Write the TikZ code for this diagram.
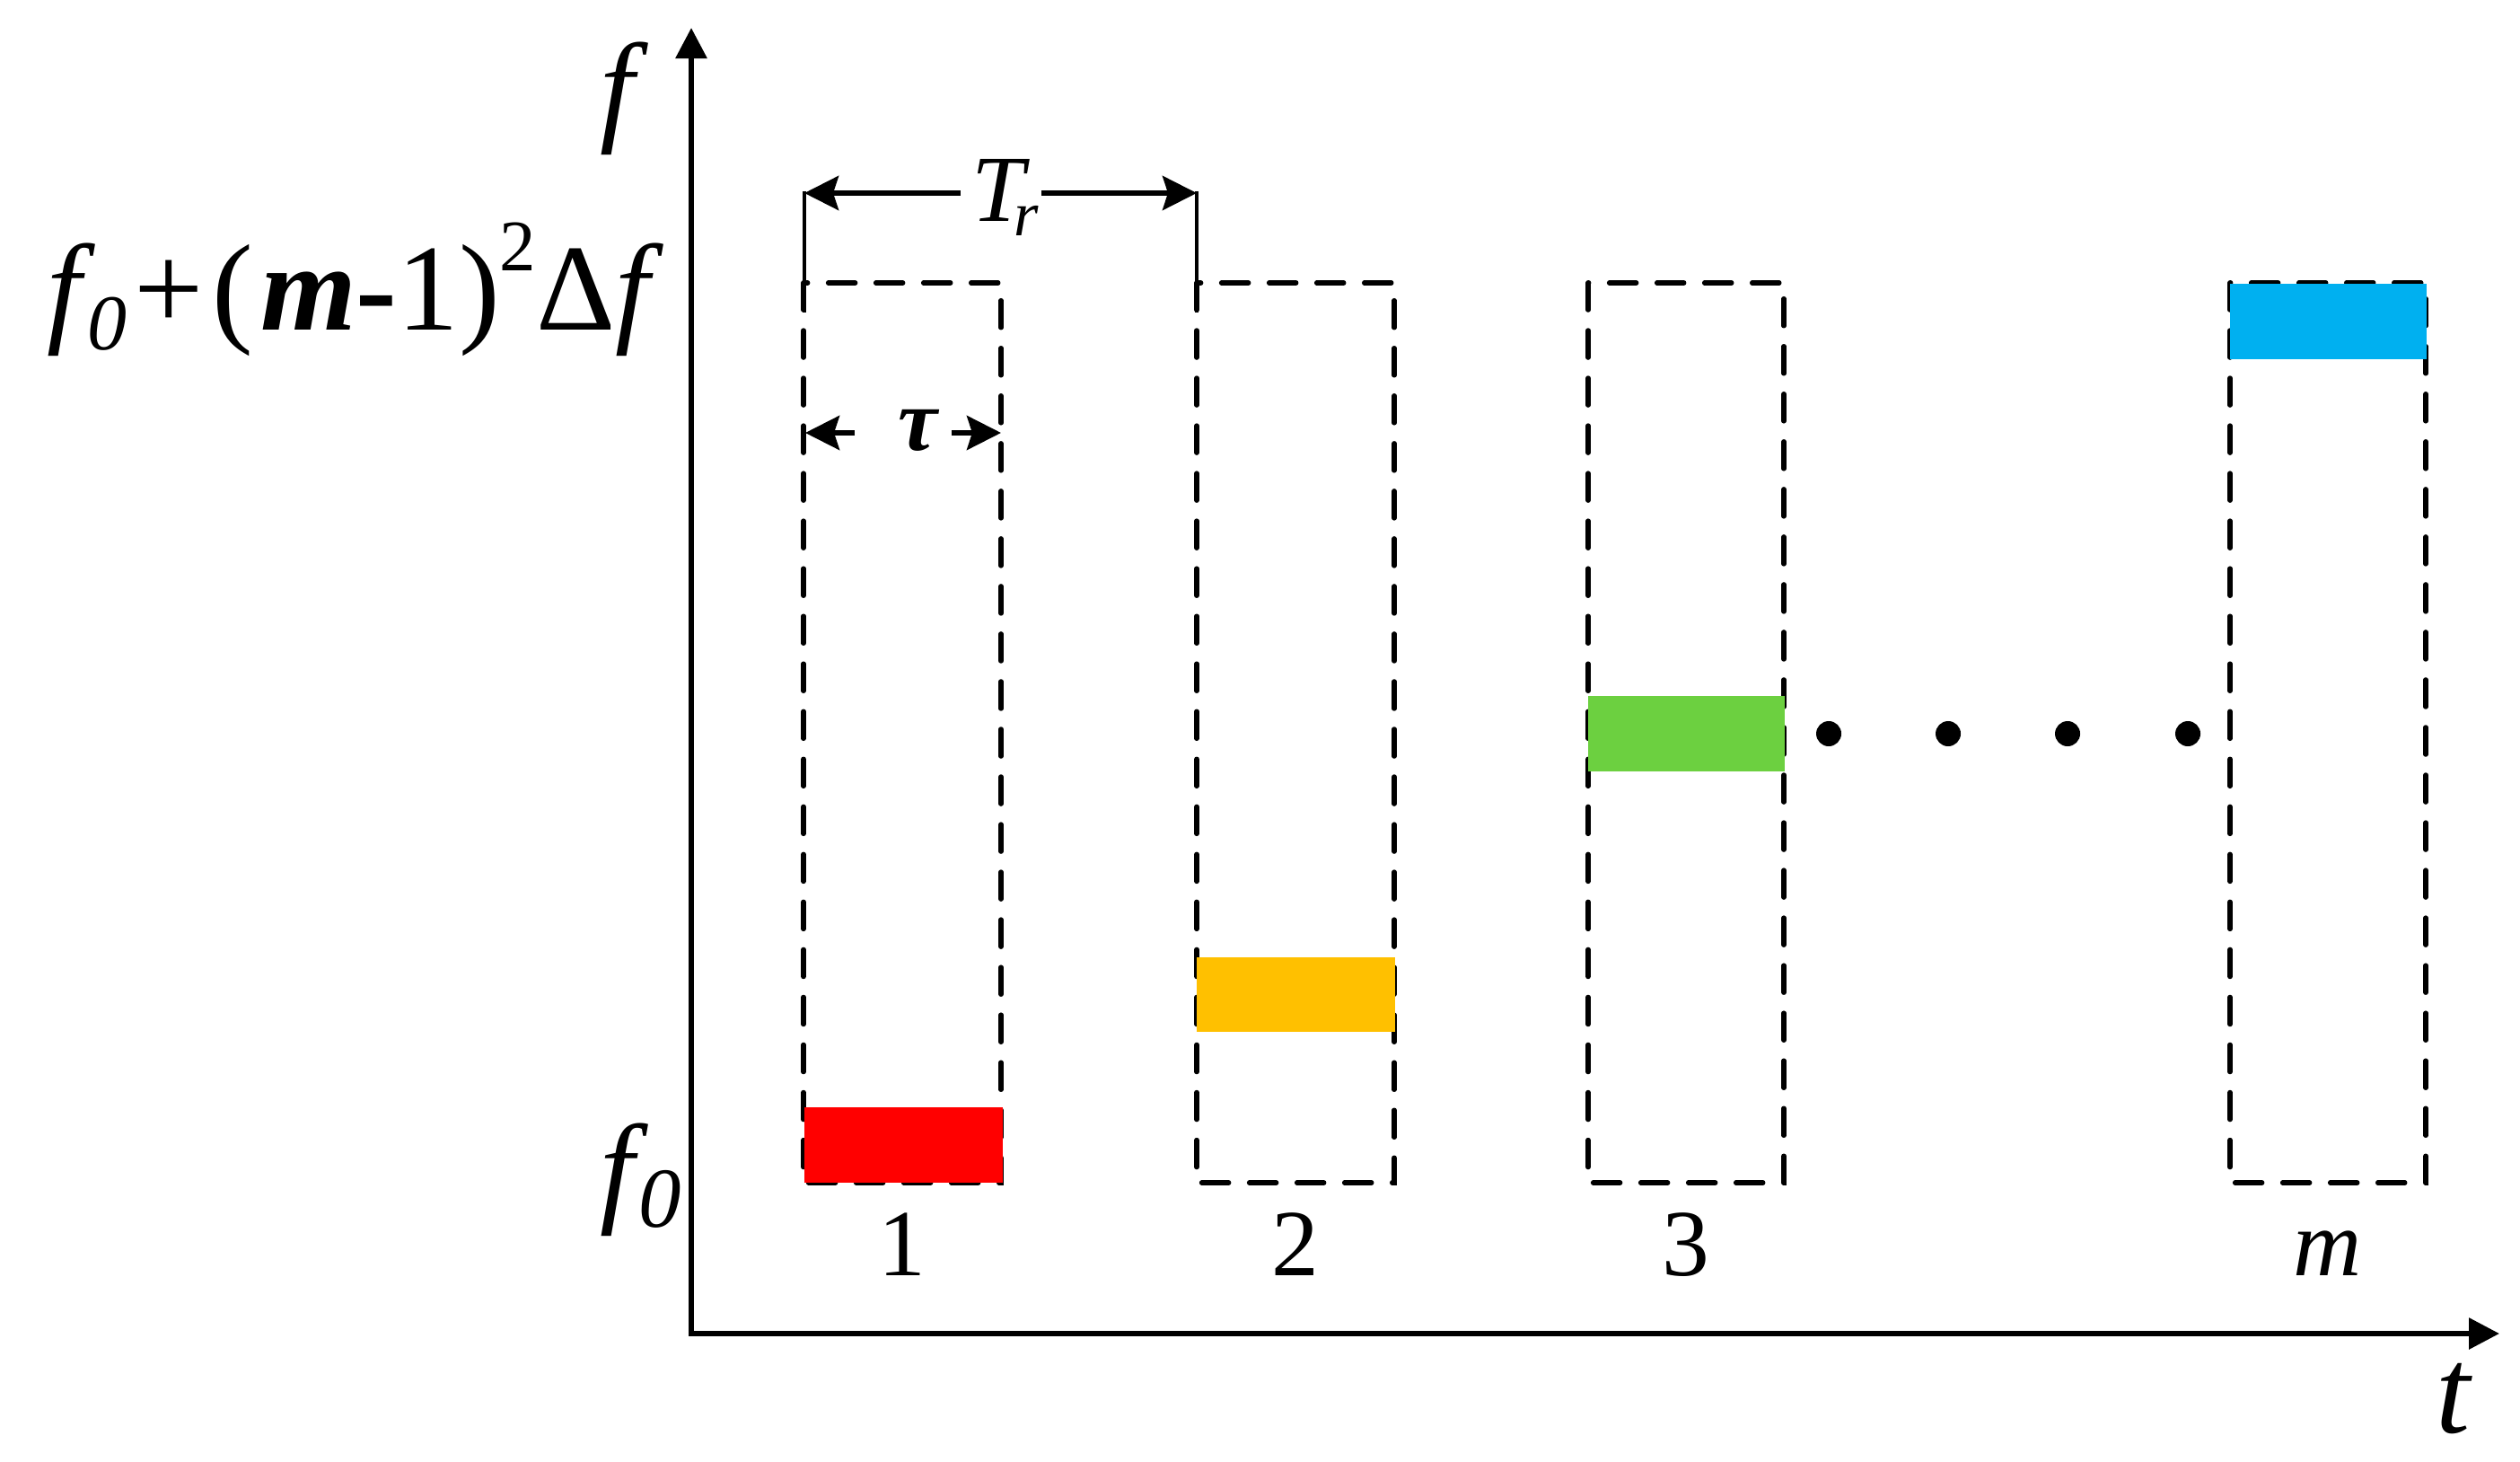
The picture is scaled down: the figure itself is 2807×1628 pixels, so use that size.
\documentclass[tikz,border=0pt]{standalone}
\usepackage{fontspec}
\setmainfont{Liberation Serif}
\usetikzlibrary{arrows.meta}
\definecolor{cred}{RGB}{255,0,0}
\definecolor{cyel}{RGB}{255,192,0}
\definecolor{cgrn}{RGB}{108,208,64}
\definecolor{cblu}{RGB}{0,176,240}
\begin{document}
\begin{tikzpicture}[x=0.01cm,y=-0.01cm,
  axis/.style={line width=0.06cm, -{Triangle[length=0.34cm,width=0.34cm]}},
  dimline/.style={line width=0.055cm, -{Stealth[length=0.38cm,width=0.38cm,inset=0.06cm]}},
  extline/.style={line width=0.042cm},
  pulsebox/.style={draw, line width=0.055cm, dash pattern=on 0.30cm off 0.23cm, line cap=round},
  big/.style={inner sep=0, font=\fontsize{39pt}{40pt}\selectfont},
  mid/.style={inner sep=0, font=\fontsize{30pt}{31pt}\selectfont},
  dotmark/.style={circle, fill=black, inner sep=0, minimum size=0.28cm}
]
\useasboundingbox (0,0) rectangle (2807,1628);

% axes
\coordinate (O) at (770,1485);
\coordinate (Ox) at (767,1485);
\coordinate (ytip) at (770,31);
\coordinate (xtip) at (2784,1485);
\draw[axis] (O) -- (ytip);
\draw[axis] (Ox) -- (xtip);

% pulse boxes
\draw[pulsebox] (895,315) rectangle (1115,1317);
\draw[pulsebox] (1333,315) rectangle (1553,1317);
\draw[pulsebox] (1769,315) rectangle (1987,1317);
\draw[pulsebox] (2484,315) rectangle (2702,1317);

% coloured frequency bars
\fill[cred] (896,1233) rectangle (1117,1317);
\fill[cyel] (1333,1066) rectangle (1554,1149);
\fill[cgrn] (1769,775) rectangle (1988,859);
\fill[cblu] (2484,316) rectangle (2703,400);

% dots
\node[dotmark] (d1) at (2037,817) {};
\node[dotmark] (d2) at (2170,817) {};
\node[dotmark] (d3) at (2303,817) {};
\node[dotmark] (d4) at (2437,817) {};

% T_r dimension
\coordinate (e1t) at (896,213);
\coordinate (e1b) at (896,348);
\coordinate (e2t) at (1333,213);
\coordinate (e2b) at (1333,348);
\draw[extline] (e1t) -- (e1b);
\draw[extline] (e2t) -- (e2b);
\coordinate (trL) at (896,215);
\coordinate (trR) at (1333,215);
\coordinate (trgL) at (1070,215);
\coordinate (trgR) at (1160,215);
\draw[dimline] (trgL) -- (trL);
\draw[dimline] (trgR) -- (trR);
\node[mid, anchor=base west] (trlab) at (1082,247) {\itshape T\kern-3.5pt\raisebox{-4.5pt}{\fontsize{20pt}{20pt}\selectfont r}};

% tau dimension
\coordinate (tuL) at (897,482);
\coordinate (tuR) at (1115,482);
\coordinate (tugL) at (952,482);
\coordinate (tugR) at (1060,482);
\draw[dimline] (tugL) -- (tuL);
\draw[dimline] (tugR) -- (tuR);
\node[inner sep=0, anchor=base, font=\fontsize{28pt}{28pt}\selectfont] (taulab) at (1022,502) {\bfseries\itshape τ};

% axis labels
\node[big, anchor=base west] (flab) at (668,144) {\itshape f};
\node[big, anchor=base west] (tlab) at (2713,1595) {\itshape t};
\node[big, anchor=base west] (fmax) at (52,368) {\itshape f\kern2pt\raisebox{-6pt}{\fontsize{25pt}{25pt}\selectfont 0}\kern2.3pt\upshape+\kern2.6pt(\kern2.3pt{\bfseries\itshape m}{\bfseries -}1)\raisebox{18.8pt}{\fontsize{23pt}{23pt}\selectfont 2}Δ\itshape f};
\node[big, anchor=base west] (fmin) at (668,1347) {\itshape f\kern1.4pt\raisebox{-5.4pt}{\fontsize{27pt}{27pt}\selectfont 0}};

% pulse numbers
\node[mid, anchor=base] (n1) at (1005,1420) {1};
\node[mid, anchor=base] (n2) at (1443,1420) {2};
\node[mid, anchor=base] (n3) at (1878,1420) {3};
\node[mid, anchor=base] (nm) at (2593,1420) {\itshape m};
\end{tikzpicture}
\end{document}
